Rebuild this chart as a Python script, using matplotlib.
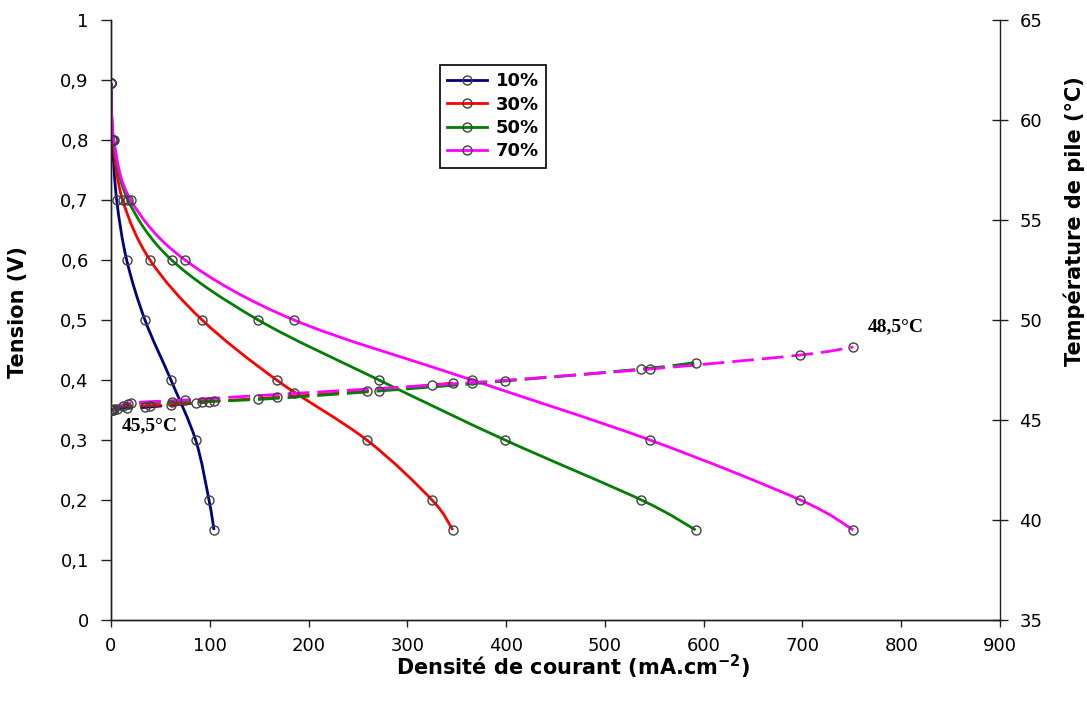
import numpy as np
import matplotlib
matplotlib.use("Agg")
import matplotlib.pyplot as plt
from matplotlib.path import Path
from matplotlib.patches import PathPatch
from matplotlib.lines import Line2D
from matplotlib.ticker import FuncFormatter

plt.rcParams['font.family'] = ['DejaVu Sans']
plt.rcParams['mathtext.fontset'] = 'dejavusans'

# ---------------- data ----------------
series = ["10%", "30%", "50%", "70%"]
colors = ["#000080", "#FF0000", "#008000", "#FF00FF"]

voltage = [0.895, 0.8, 0.7, 0.6, 0.5, 0.4, 0.3, 0.2, 0.15]

j10 = [0, 1.5, 5.8, 15.9, 34.4, 60.7, 85.7, 99.2, 104.3]
j30 = [0, 2.0, 11.8, 39.5, 92.3, 167.7, 258.9, 325.0, 346.0]
j50 = [0, 2.5, 17.2, 61.4, 149.1, 271.3, 398.9, 537.0, 591.9]
j70 = [0, 3.0, 19.9, 75.0, 185.3, 365.5, 545.6, 698.0, 751.5]

t10 = [45.5, 45.5, 45.55, 45.6, 45.63, 45.75, 45.85, 45.92, 45.95]
t30 = [45.5, 45.5, 45.7, 45.72, 45.9, 46.13, 46.45, 46.75, 46.85]
t50 = [45.5, 45.5, 45.8, 45.9, 46.03, 46.45, 46.95, 47.55, 47.87]
t70 = [45.5, 45.55, 45.85, 46.0, 46.33, 46.87, 47.55, 48.25, 48.65]

current = [j10, j30, j50, j70]
temps = [t10, t30, t50, t70]

x_ticks = [0, 100, 200, 300, 400, 500, 600, 700, 800, 900]
v_ticks = [0, 0.1, 0.2, 0.3, 0.4, 0.5, 0.6, 0.7, 0.8, 0.9, 1.0]
t_ticks = [35, 40, 45, 50, 55, 60, 65]


def smooth_path(x, y):
    """Excel-like smoothed line: cubic Bezier segments through the points."""
    pts = np.column_stack([np.asarray(x, float), np.asarray(y, float)])
    n = len(pts)
    verts = [pts[0]]
    codes = [Path.MOVETO]
    for i in range(n - 1):
        p0 = pts[i - 1] if i > 0 else pts[i]
        p1 = pts[i]
        p2 = pts[i + 1]
        p3 = pts[i + 2] if i + 2 < n else pts[i + 1]
        c1 = p1 + (p2 - p0) / 6.0
        c2 = p2 - (p3 - p1) / 6.0
        verts += [c1, c2, p2]
        codes += [Path.CURVE4] * 3
    return Path(np.array(verts), codes)


fig = plt.figure(figsize=(10.87, 7.02), dpi=100)
ax = fig.add_axes([0.1021, 0.1168, 0.9200 - 0.1021, 0.9715 - 0.1168])
ax2 = ax.twinx()

mk = dict(marker='o', ms=6.5, mfc='none', mec='#404040', mew=1.0, ls='none')

for j, c in zip(current, colors):
    ax.add_patch(PathPatch(smooth_path(j, voltage), fill=False, edgecolor=c,
                           lw=2.0, transform=ax.transData, zorder=2))
    ax.plot(j, voltage, zorder=3, **mk)

for j, t, c in zip(current, temps, colors):
    ax2.add_patch(PathPatch(smooth_path(j, t), fill=False, edgecolor=c,
                            lw=2.0, linestyle=(0, (7.8, 2.9)),
                            transform=ax2.transData, zorder=2))
    ax2.plot(j, t, zorder=3, **mk)

ax.set_xlim(0, 900)
ax.set_ylim(0, 1)
ax2.set_ylim(35, 65)

ax.set_xticks(x_ticks)
ax.set_yticks(v_ticks)
ax2.set_yticks(t_ticks)

fmt = FuncFormatter(lambda v, p: f"{v:g}".replace('.', ','))
ax.yaxis.set_major_formatter(fmt)

for a in (ax, ax2):
    a.spines['top'].set_visible(False)
    for s in a.spines.values():
        s.set_color('#202020')
        s.set_linewidth(1.0)
ax.spines['right'].set_visible(False)

ax.tick_params(axis='x', direction='out', length=5, width=1, labelsize=13,
               pad=7, color='#202020')
ax.tick_params(axis='y', direction='out', length=7, width=1, labelsize=13,
               pad=9, color='#202020')
ax2.tick_params(axis='y', direction='inout', length=12, width=1, labelsize=13,
                pad=8, color='#202020')

ax.set_xlabel("Densité de courant (mA.cm$^{\\mathbf{-2}}$)", fontsize=15,
              fontweight='bold')
ax.xaxis.set_label_coords(0.52, -0.055)
ax.set_ylabel("Tension (V)", fontsize=15, fontweight='bold')
ax.yaxis.set_label_coords(-0.093, 0.513)
ax2.set_ylabel("Température de pile (°C)", fontsize=15, fontweight='bold')
ax2.yaxis.set_label_coords(1.071, 0.665)

ax2.text(11, 0.323 * 30 + 35, "45,5°C", family=['Liberation Serif'],
         fontweight='bold', fontsize=14, ha='left', va='center')
ax2.text(766, 0.488 * 30 + 35, "48,5°C", family=['Liberation Serif'],
         fontweight='bold', fontsize=14, ha='left', va='center')

handles = [Line2D([], [], color=c, lw=2, marker='o', ms=6.5, mfc='none',
                  mec='#404040', mew=1.0) for c in colors]
leg = ax2.legend(handles, series, loc='upper left',
                 bbox_to_anchor=(0.370, 0.925), borderaxespad=0,
                 frameon=True, fancybox=False,
                 edgecolor='black', framealpha=1, handlelength=2.2,
                 handletextpad=0.5, labelspacing=0.3, borderpad=0.4,
                 prop={'weight': 'bold', 'size': 13})
leg.get_frame().set_linewidth(1.2)
leg.set_zorder(10)

fig.savefig("out.png", dpi=100)
